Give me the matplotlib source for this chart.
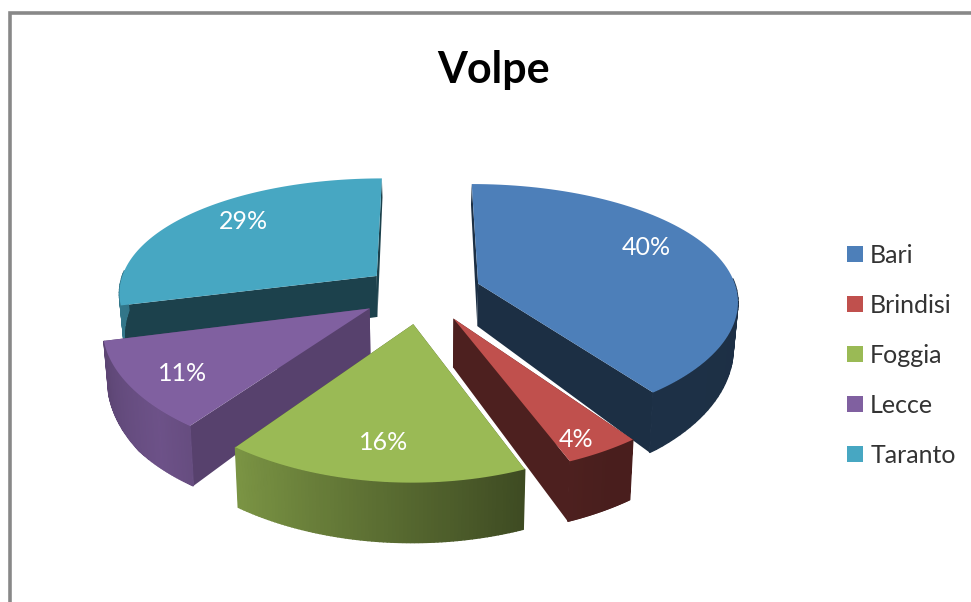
import numpy as np
import matplotlib
matplotlib.use("Agg")
import matplotlib.pyplot as plt
from matplotlib.patches import Polygon, Patch, Rectangle
from matplotlib.colors import to_rgb

title = "Volpe"
categories = ["Bari", "Brindisi", "Foggia", "Lecce", "Taranto"]
values = [40, 4, 16, 11, 29]
colors = ["#4d7fb9", "#c0504d", "#9aba55", "#8060a0", "#47a7c2"]

# drawing style
W, H = 971, 602
CX, CY, R, K = 422, 292, 259, 0.46
PX, PY = 0.13, 0.17
explode = [0.23, 0.245, 0.26, 0.24, 0.225]
cut_shade = [0.37, 0.40, 0.5, 0.68, 0.39]
wall_t = [90, 150, 158, 216, 225, 256, 360]
wall_f = [0.37, 0.38, 0.40, 0.80, 0.85, 0.72, 0.6]
label_shift = [(-1, -11), (19, 30), (-2, 12), (-18, 11), (1, -8)]

plt.rcParams["font.family"] = ["Lato", "DejaVu Sans"]
fig = plt.figure(figsize=(W / 100, H / 100), dpi=100)
ax = fig.add_axes([0, 0, 1, 1])
ax.set_xlim(0, W)
ax.set_ylim(H, 0)
ax.axis("off")
ax.add_patch(Rectangle((10, 12.5), 990, 620, fc="white", ec="#888888", lw=2.6))


def project(x, y, z=0.0):
    sx = 1 / (1 - PX * y)
    sy = 1 / (1 - PY * y)
    depth = min(60, 44 + 22 * y)
    px = x * R * sx
    return CX + px * (1 - 0.015 * z), CY + y * K * R * sy + z * depth


def shade(c, f):
    return tuple(np.clip(np.array(to_rgb(c)) * f, 0, 1))


fracs = np.array(values, float) / sum(values)
edges = np.concatenate([[0], np.cumsum(fracs)]) * 2 * np.pi
slices = []
for i, c in enumerate(colors):
    a0, a1 = edges[i], edges[i + 1]
    mid = (a0 + a1) / 2
    ox, oy = explode[i] * np.sin(mid), -explode[i] * np.cos(mid)
    slices.append((oy - 0.3 * np.cos(mid), i, a0, a1, ox, oy, c))

# back slices first, front slices last
for _, i, a0, a1, ox, oy, c in sorted(slices, key=lambda s: s[0]):
    zo = 2 + oy
    t = np.linspace(a0, a1, 80)
    rimx, rimy = ox + np.sin(t), oy - np.cos(t)
    for a in (a0, a1):
        ex, ey = ox + np.sin(a), oy - np.cos(a)
        px = [project(ox, oy), project(ex, ey), project(ex, ey, 1), project(ox, oy, 1)]
        ax.add_patch(Polygon(px, fc=shade(c, cut_shade[i]), ec="none", zorder=zo))
    for j in range(len(t) - 1):
        if rimy[j] + rimy[j + 1] < 2 * oy - 0.1:
            continue
        q = [project(rimx[j], rimy[j]), project(rimx[j + 1], rimy[j + 1]),
             project(rimx[j + 1], rimy[j + 1], 1), project(rimx[j], rimy[j], 1)]
        f = np.interp(np.degrees(t[j]), wall_t, wall_f)
        ax.add_patch(Polygon(q, fc=shade(c, f), ec=shade(c, f), lw=1, zorder=zo))
    top = [project(ox, oy)] + [project(x, y) for x, y in zip(rimx, rimy)]
    ax.add_patch(Polygon(top, fc=c, ec="none", zorder=zo))
    mid = (a0 + a1) / 2
    lx, ly = project(ox + 0.72 * np.sin(mid), oy - 0.72 * np.cos(mid))
    ax.text(lx + label_shift[i][0], ly + label_shift[i][1], f"{values[i]}%", color="white",
            fontsize=18, ha="center", va="center", zorder=10)

ax.text(494, 70, title, fontsize=31, fontweight="bold", ha="center", va="center", color="black")
handles = [Patch(fc=c, ec="none", label=n) for c, n in zip(colors, categories)]
fig.legend(handles=handles, loc="center left", bbox_to_anchor=(0.849, 0.41), frameon=False,
           fontsize=18, labelspacing=1.08, handlelength=0.65, handleheight=0.65, handletextpad=0.28,
           labelcolor="#333333")
fig.savefig("out.png", dpi=100)
